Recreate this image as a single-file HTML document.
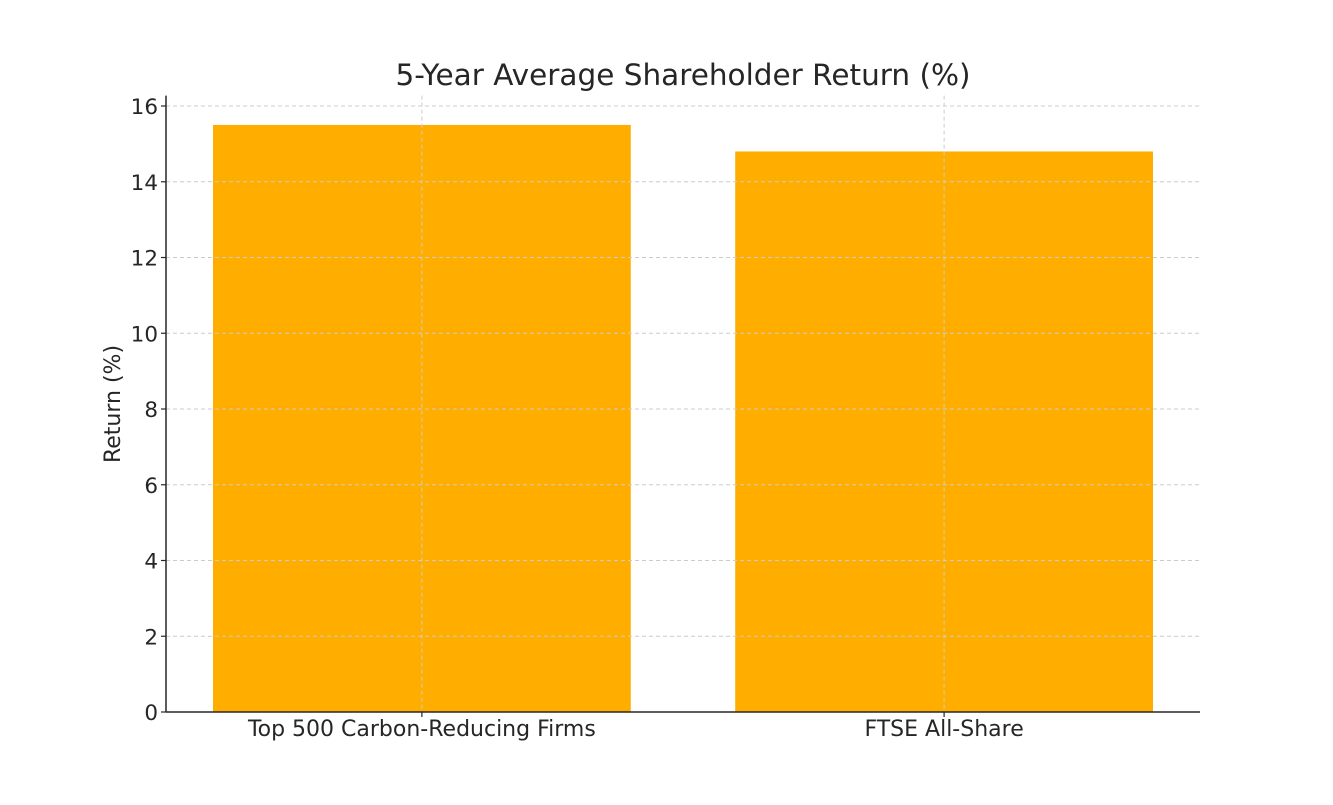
<!DOCTYPE html>
<html><head><meta charset="utf-8"><style>
body{margin:0;background:#fff}
svg text{font-family:"DejaVu Sans","Liberation Sans",sans-serif;fill:#262626}
</style></head><body>
<svg width="1333" height="800" id="c"></svg>
<script>
const categories=["Top 500 Carbon-Reducing Firms","FTSE All-Share"];
const values=[15.5,14.8];
const yTicks=[0,2,4,6,8,10,12,14,16];
const svg=document.getElementById('c');
const NS='http://www.w3.org/2000/svg';
const L=166,R=1200,B=712,T=95.6,yMax=16.275;
const xMin=-0.49,xMax=categories.length-1+0.49;
const y=v=>B-(v/yMax)*(B-T);
const cx=i=>L+(i-xMin)/(xMax-xMin)*(R-L);
const unit=(R-L)/(xMax-xMin);
const bw=unit*0.8;
function mk(tag,a,txt){const e=document.createElementNS(NS,tag);for(const k in a)e.setAttribute(k,a[k]);if(txt!==undefined)e.textContent=txt;svg.appendChild(e);return e;}
categories.forEach((c,i)=>{
 const r=mk('rect',{x:cx(i)-bw/2,y:y(values[i]),width:bw,height:B-y(values[i]),fill:'#ffae00'});
 
 
});
yTicks.forEach(t=>{
 const g=mk('line',{x1:L,x2:R,y1:y(t),y2:y(t),stroke:'#cccccc','stroke-dasharray':'4,3','stroke-width':1});
 
 
 mk('line',{x1:L-5,x2:L,y1:y(t),y2:y(t),stroke:'#262626','stroke-width':1.2});
 const tx=mk('text',{x:L-8,y:y(t)+8,'text-anchor':'end','font-size':21.5},t);
 
 
});
categories.forEach((c,i)=>{
 const g=mk('line',{x1:cx(i),x2:cx(i),y1:T,y2:B,stroke:'#cccccc','stroke-dasharray':'4,3','stroke-width':1});
 
 
 mk('line',{x1:cx(i),x2:cx(i),y1:B,y2:B+5,stroke:'#262626','stroke-width':1.2});
 const tx=mk('text',{x:cx(i),y:B+24,'text-anchor':'middle','font-size':22},c);
 
 
});
const ys=mk('line',{x1:L,x2:L,y1:T,y2:B,stroke:'#262626','stroke-width':1.5});


const xs=mk('line',{x1:L,x2:R,y1:B,y2:B,stroke:'#262626','stroke-width':1.5});


const ti=mk('text',{x:683,y:85,'text-anchor':'middle','font-size':29.5},'5-Year Average Shareholder Return (%)');


const yl=mk('text',{x:0,y:0,'text-anchor':'middle','font-size':22,transform:'translate(120,404) rotate(-90)'},'Return (%)');


</script>
</body></html>
